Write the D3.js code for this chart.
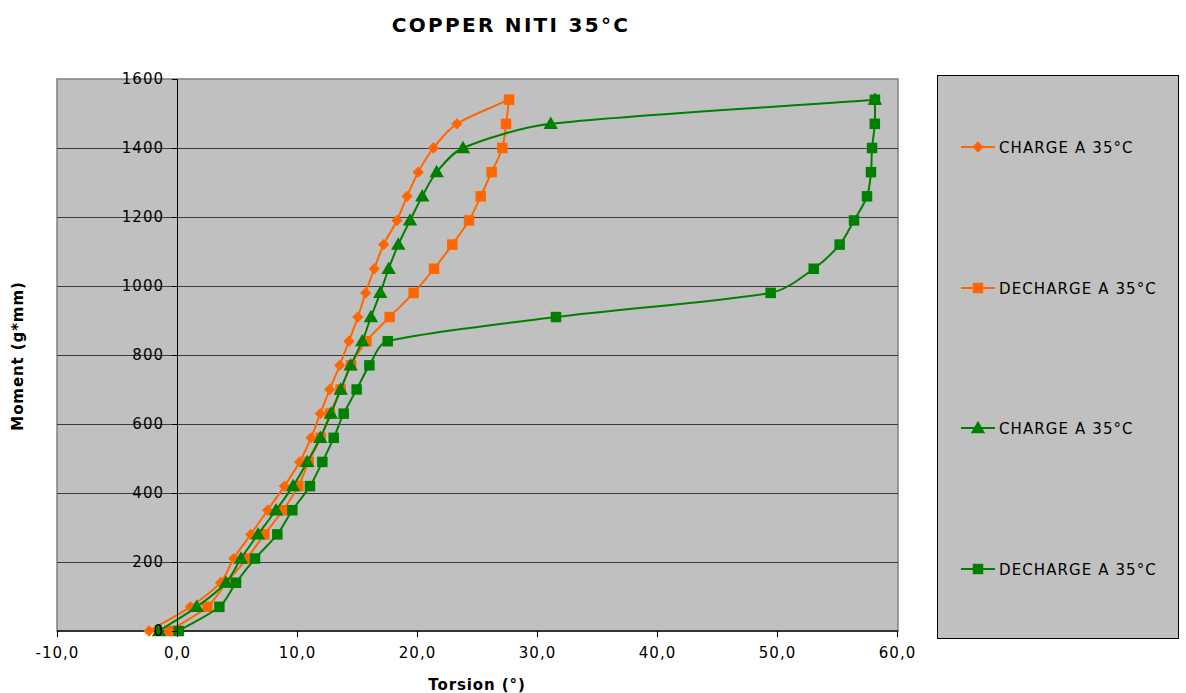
<!DOCTYPE html>
<html>
<head>
<meta charset="utf-8">
<script src="https://cdn.jsdelivr.net/npm/d3@7"></script>
<style>
  html, body { margin: 0; padding: 0; background: #ffffff; }
  svg { display: block; }
  text { font-family: "DejaVu Sans", Verdana, sans-serif; fill: #000; }
</style>
</head>
<body>
<svg id="chart" width="1186" height="693"></svg>
<script>
// ---- data ----
const moments = [0,70,140,210,280,350,420,490,560,630,700,770,840,910,980,1050,1120,1190,1260,1330,1400,1470,1540];

const chargeOrangeX = [-2.33,1.12,3.62,4.73,6.15,7.55,8.95,10.22,11.17,11.94,12.73,13.56,14.33,15.07,15.72,16.44,17.22,18.33,19.17,20.1,21.37,23.32,27.67];
const dechargeOrangeX = [-0.64,2.53,4.11,5.81,7.28,8.83,10.11,10.97,11.97,12.75,13.64,14.5,15.78,17.72,19.72,21.42,22.94,24.33,25.31,26.22,27.11,27.42,27.67];
const chargeGreenX = [-1.5,1.64,4.08,5.33,6.75,8.25,9.67,10.86,11.94,12.83,13.64,14.47,15.44,16.16,16.94,17.64,18.44,19.42,20.44,21.64,23.83,31.14,58.16];
const dechargeGreenX = [0.14,3.53,4.92,6.5,8.36,9.61,11.08,12.11,13.06,13.89,14.97,16.03,17.56,31.58,49.47,53.06,55.22,56.42,57.5,57.83,57.92,58.15,58.16];

const seriesNames = ["CHARGE A 35°C","DECHARGE A 35°C","CHARGE A 35°C","DECHARGE A 35°C"];
const seriesColors = ["#FF6600","#FF6600","#008000","#008000"];
const seriesMarkers = ["diamond","square","triangle","square"];
const xTicks = [-10,0,10,20,30,40,50,60];
const yTicks = [0,200,400,600,800,1000,1200,1400,1600];
const titleText = "COPPER NITI 35°C";
const xTitle = "Torsion (°)";
const yTitle = "Moment (g*mm)";

// ---- layout ----
const svg = d3.select("#chart");
const plot = {left: 57, right: 898, top: 79, bottom: 631};
const x = d3.scaleLinear().domain([-10, 60]).range([plot.left, 897]);
const y = d3.scaleLinear().domain([0, 1600]).range([plot.bottom, plot.top]);

// smoothed line (spreadsheet-style Bezier with capped control points)
function smoothPath(pts) {
  const p = pts.map(d => [x(d[0]), y(d[1])]);
  const n = p.length;
  const path = d3.path();
  const tangent = i => {
    const a = p[Math.max(0, i - 1)], b = p[Math.min(n - 1, i + 1)];
    const f = (i === 0 || i === n - 1) ? 1 / 3 : 1 / 6;
    return [(b[0] - a[0]) * f, (b[1] - a[1]) * f];
  };
  const cap = (t, len) => {
    const l = Math.hypot(t[0], t[1]);
    if (l === 0 || l <= len) return t;
    return [t[0] * len / l, t[1] * len / l];
  };
  path.moveTo(p[0][0], p[0][1]);
  for (let i = 0; i < n - 1; i++) {
    const seg = Math.hypot(p[i + 1][0] - p[i][0], p[i + 1][1] - p[i][1]) / 3;
    const t0 = cap(tangent(i), seg), t1 = cap(tangent(i + 1), seg);
    path.bezierCurveTo(p[i][0] + t0[0], p[i][1] + t0[1],
                       p[i + 1][0] - t1[0], p[i + 1][1] - t1[1],
                       p[i + 1][0], p[i + 1][1]);
  }
  return path.toString();
}

// title
svg.append("text").attr("x", 511).attr("y", 32).attr("text-anchor", "middle")
  .style("font-size", "20px").style("font-weight", "bold").style("letter-spacing", "2.3px")
  .text(titleText);

// plot background
svg.append("rect").attr("x", plot.left).attr("y", plot.top)
  .attr("width", plot.right - plot.left).attr("height", plot.bottom - plot.top)
  .attr("fill", "#C0C0C0").attr("stroke", "#808080").attr("stroke-width", 1.5);

// gridlines
svg.append("g").selectAll("line").data(yTicks.filter(d => d > 0 && d < 1600)).join("line")
  .attr("x1", plot.left).attr("x2", plot.right)
  .attr("y1", d => Math.round(y(d)) + 0.5).attr("y2", d => Math.round(y(d)) + 0.5)
  .attr("stroke", "#3a3a3a").attr("stroke-width", 1);

// x axis line at y=0 (bottom)
svg.append("line").attr("x1", plot.left).attr("x2", plot.right)
  .attr("y1", y(0)).attr("y2", y(0)).attr("stroke", "#333").attr("stroke-width", 2);

// series markers
const markerDef = {
  diamond: {gen: d3.symbol().type(d3.symbolSquare).size(64), rot: 45, dy: 0},
  square: {gen: d3.symbol().type(d3.symbolSquare).size(110), rot: 0, dy: 0},
  triangle: {gen: d3.symbol().type(d3.symbolTriangle).size(90), rot: 0, dy: 1}
};
const allX = [chargeOrangeX, dechargeOrangeX, chargeGreenX, dechargeGreenX];

allX.forEach((xs, i) => {
  const pts = xs.map((v, j) => [v, moments[j]]);
  const m = markerDef[seriesMarkers[i]];
  const g = svg.append("g");
  g.append("path").attr("d", smoothPath(pts)).attr("fill", "none")
    .attr("stroke", seriesColors[i]).attr("stroke-width", 2);
  g.selectAll("path.m").data(pts).join("path").attr("class", "m")
    .attr("transform", d => `translate(${x(d[0])},${y(d[1]) + m.dy}) rotate(${m.rot})`)
    .attr("d", m.gen())
    .attr("fill", seriesColors[i]);
});

// y axis at x = 0
const yAxis = d3.axisLeft(y).tickValues(yTicks).tickSize(5).tickPadding(8).tickFormat(d3.format("d"));
const yg = svg.append("g").attr("transform", `translate(${x(0)},0)`).call(yAxis);
yg.select(".domain").attr("stroke", "#000").attr("stroke-width", 1);
yg.selectAll(".tick line").attr("stroke", "#000");
yg.selectAll(".tick text").style("font-size", "15px").style("letter-spacing", "1px")
  .style("font-family", "'DejaVu Sans', Verdana, sans-serif").attr("fill", "#000");

// x axis ticks/labels at bottom
const xAxis = d3.axisBottom(x).tickValues(xTicks).tickSize(6).tickPadding(10)
  .tickFormat(d => d.toFixed(1).replace(".", ","));
const xg = svg.append("g").attr("transform", `translate(0,${plot.bottom})`).call(xAxis);
xg.select(".domain").remove();
xg.selectAll(".tick line").attr("stroke", "#000");
xg.selectAll(".tick text").style("font-size", "15px").style("letter-spacing", "1px")
  .style("font-family", "'DejaVu Sans', Verdana, sans-serif").attr("fill", "#000");

// axis titles
svg.append("text").attr("x", 477).attr("y", 690).attr("text-anchor", "middle")
  .style("font-size", "15px").style("font-weight", "bold").style("letter-spacing", "0.9px")
  .text(xTitle);
svg.append("text").attr("transform", "translate(23,356) rotate(-90)").attr("text-anchor", "middle")
  .style("font-size", "15px").style("font-weight", "bold").style("letter-spacing", "0.9px")
  .text(yTitle);

// legend
const lg = svg.append("g");
lg.append("rect").attr("x", 937.5).attr("y", 75.5).attr("width", 241).attr("height", 563)
  .attr("fill", "#C0C0C0").attr("stroke", "#000").attr("stroke-width", 1);
const legendY = [147, 288, 428, 569];
seriesNames.forEach((name, i) => {
  const ly = legendY[i];
  const m = markerDef[seriesMarkers[i]];
  lg.append("line").attr("x1", 961).attr("x2", 995).attr("y1", ly).attr("y2", ly)
    .attr("stroke", seriesColors[i]).attr("stroke-width", 2);
  lg.append("path").attr("transform", `translate(978,${ly + m.dy}) rotate(${m.rot})`)
    .attr("d", m.gen()).attr("fill", seriesColors[i]);
  lg.append("text").attr("x", 999).attr("y", ly + 5.5)
    .style("font-size", "15px").style("letter-spacing", "1.1px").text(name);
});
</script>
</body>
</html>
